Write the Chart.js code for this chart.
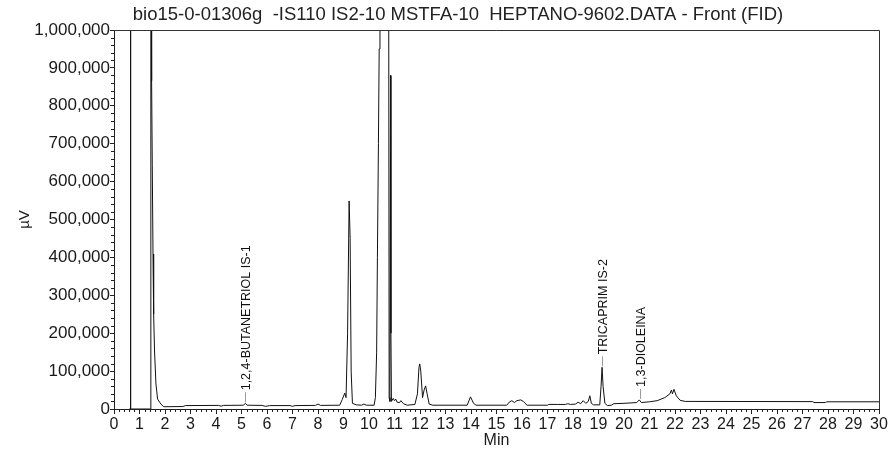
<!DOCTYPE html>
<html>
<head>
<meta charset="utf-8">
<script src="https://cdn.jsdelivr.net/npm/chart.js@4.4.0/dist/chart.umd.min.js"></script>
<style>
  html, body { margin: 0; padding: 0; background: #fff; }
</style>
</head>
<body>
<canvas id="fidChart" width="890" height="452"></canvas>
<script>
var titleText = 'bio15-0-01306g  -IS110 IS2-10 MSTFA-10  HEPTANO-9602.DATA - Front (FID)';

// retention time (min) / detector signal (uV)
var times = [0.60, 0.63, 0.645, 0.66, 1.42, 1.445, 1.465, 1.475, 1.50, 1.53, 1.555, 1.59, 1.645, 1.71, 1.84, 1.95,
  2.70, 2.80, 4.10, 4.20, 4.30, 5.08, 5.15, 5.22, 5.80, 5.95, 6.10, 6.90, 7.00, 7.10, 7.90, 8.00, 8.10,
  8.85, 8.95, 9.05, 9.10, 9.16, 9.22, 9.26, 9.30, 9.35, 9.50, 9.70, 9.80, 9.90, 10.20,
  10.25, 10.30, 10.33, 10.37, 10.40, 10.43, 10.60, 10.77, 10.79, 10.82, 10.845, 10.86, 10.88,
  10.95, 11.00, 11.05, 11.10, 11.20, 11.25, 11.35, 11.50, 11.80, 11.90, 11.96, 11.99, 12.03, 12.10,
  12.16, 12.22, 12.28, 12.36, 12.50, 13.85, 13.98, 14.10, 14.20, 15.40, 15.50, 15.60, 15.70, 15.80,
  15.95, 16.05, 16.20, 17.00, 17.05, 17.40, 17.70, 17.80, 17.90, 18.10, 18.20, 18.30, 18.40, 18.50,
  18.60, 18.66, 18.72, 18.80, 19.05, 19.10, 19.14, 19.18, 19.25, 19.35, 19.50, 19.60, 20.00, 20.50,
  20.60, 20.68, 21.00, 21.30, 21.60, 21.80, 21.86, 21.90, 21.96, 22.05, 22.20, 22.40,
  27.40, 27.45, 27.90, 27.95, 30.00];
var microvolts = [0, 0, 1500000, 0, 0, 1500000, 1200000, 866000, 646000, 409000, 250000, 153000, 66000, 26000, 13000, 6000,
  6500, 9000, 9500, 7500, 9500, 10000, 15000, 10000, 9500, 7000, 9000, 9000, 7000, 9000, 9500, 13000, 9500,
  10000, 25000, 42000, 30000, 200000, 549000, 450000, 100000, 15000, 11000, 10000, 13000, 10000, 10000,
  30000, 150000, 400000, 700000, 950000, 1300000, 1600000, 1300000, 30000, 20000, 880000, 200000, 20000,
  28000, 22000, 26000, 18000, 17000, 22000, 14000, 10000, 12000, 40000, 110000, 119000, 100000, 30000,
  50000, 61000, 40000, 13000, 10000, 10000, 32000, 15000, 10000, 10000, 18000, 22000, 17000, 22000,
  24000, 20000, 10000, 10000, 12000, 12000, 12000, 14000, 12000, 13000, 18000, 14000, 22000, 15000,
  20000, 35000, 15000, 11000, 11000, 60000, 110000, 60000, 15000, 9000, 10000, 14000, 15000, 17000,
  24000, 17000, 19000, 22000, 30000, 40000, 50000, 40000, 52000, 35000, 23000, 20000,
  19500, 17000, 17000, 19000, 19000];

var peakNames = ['1,2,4-BUTANETRIOL IS-1', 'TRICAPRIM IS-2', '1,3-DIOLEINA'];
var peakTimes = [5.15, 19.14, 20.62];
var peakHeights = [15000, 110000, 24000];

var yTicks = [0, 100000, 200000, 300000, 400000, 500000, 600000, 700000, 800000, 900000, 1000000];

var pts = times.map(function (t, i) { return { x: t, y: microvolts[i] }; });

var ink = '#1a1a1a';

var chromPlugin = {
  id: 'chromDecor',
  afterDraw: function (chart) {
    var ctx = chart.ctx;
    var a = chart.chartArea;
    var xs = chart.scales.x;
    var ys = chart.scales.y;
    ctx.save();
    // frame top / right
    ctx.strokeStyle = '#333';
    ctx.lineWidth = 1;
    ctx.beginPath();
    ctx.moveTo(a.left, a.top + 0.5);
    ctx.lineTo(a.right + 0.5, a.top + 0.5);
    ctx.lineTo(a.right + 0.5, a.bottom);
    ctx.stroke();
    // minor ticks
    ctx.strokeStyle = '#222';
    ctx.beginPath();
    for (var k = 1; k < 150; k++) {
      if (k % 5 === 0) continue;
      var px = Math.round(xs.getPixelForValue(k * 0.2)) + 0.5;
      ctx.moveTo(px, a.bottom);
      ctx.lineTo(px, a.bottom + 3);
    }
    for (var j = 1; j < 50; j++) {
      if (j % 5 === 0) continue;
      var py = Math.round(ys.getPixelForValue(j * 20000)) + 0.5;
      ctx.moveTo(a.left, py);
      ctx.lineTo(a.left - 3, py);
    }
    ctx.stroke();
    // peak labels
    ctx.font = '12.5px "Liberation Sans"';
    ctx.fillStyle = '#111';
    ctx.textAlign = 'left';
    ctx.textBaseline = 'middle';
    for (var i = 0; i < peakNames.length; i++) {
      var x = Math.round(xs.getPixelForValue(peakTimes[i])) + 0.5;
      var y = ys.getPixelForValue(peakHeights[i]);
      ctx.strokeStyle = '#999';
      ctx.beginPath();
      ctx.moveTo(x, y - 1);
      ctx.lineTo(x, y - 11);
      ctx.stroke();
      ctx.save();
      ctx.translate(x + 1, y - 13);
      ctx.rotate(-Math.PI / 2);
      ctx.fillText(peakNames[i], 0, 0);
      ctx.restore();
    }
    // title
    ctx.font = '18.5px "Liberation Sans"';
    ctx.fillStyle = '#222';
    ctx.textAlign = 'center';
    ctx.fillText(titleText, 458, 15);
    ctx.restore();
  }
};

var ctxD = document.getElementById('fidChart').getContext('2d');
var fidChart = new Chart(ctxD, {
  type: 'line',
  data: {
    datasets: [{
      data: pts,
      borderColor: '#111',
      borderWidth: 1,
      pointRadius: 0,
      tension: 0,
      fill: false
    }]
  },
  options: {
    responsive: false,
    animation: false,
    layout: { padding: { top: 30, right: 11, left: 0, bottom: 0 } },
    plugins: { legend: { display: false }, tooltip: { enabled: false }, title: { display: false } },
    scales: {
      x: {
        type: 'linear',
        min: 0,
        max: 30,
        afterFit: function (s) { s.height = 43; },
        border: { color: '#222' },
        grid: { drawOnChartArea: false, tickLength: 5, color: '#222' },
        ticks: { stepSize: 1, maxRotation: 0, autoSkip: false, padding: 1, color: ink, font: { family: 'Liberation Sans', size: 16 } },
        title: { display: true, text: 'Min', color: ink, font: { family: 'Liberation Sans', size: 16 }, padding: { top: 0, bottom: 2 } }
      },
      y: {
        min: 0,
        max: 1000000,
        afterFit: function (s) { s.width = 114; },
        afterBuildTicks: function (s) { s.ticks = yTicks.map(function (v) { return { value: v }; }); },
        border: { color: '#222' },
        grid: { drawOnChartArea: false, tickLength: 4, color: '#222' },
        ticks: {
          padding: 0,
          color: ink,
          font: { family: 'Liberation Sans', size: 17 },
          callback: function (v) { return v.toLocaleString('en-US'); }
        },
        title: { display: true, text: 'µV', color: ink, font: { family: 'Liberation Sans', size: 15 }, padding: { top: 16, bottom: 0 } }
      }
    }
  },
  plugins: [chromPlugin]
});
</script>
</body>
</html>
